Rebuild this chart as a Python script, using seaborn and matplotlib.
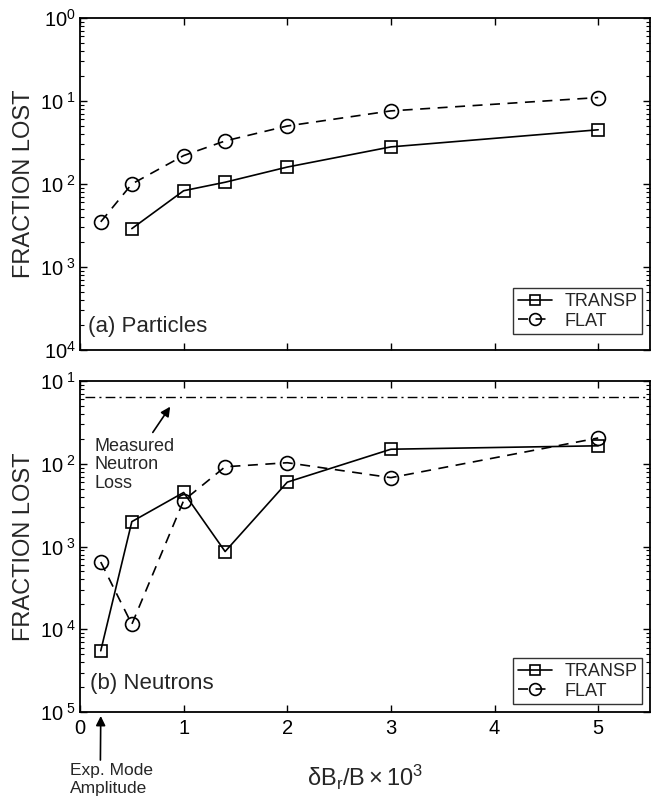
import numpy as np
import pandas as pd
import matplotlib
matplotlib.use("Agg")
import matplotlib.pyplot as plt
import seaborn as sns

# ---------------- data ----------------
x_flat_top = [0.2, 0.5, 1.0, 1.4, 2.0, 3.0, 5.0]
flat_top = [3.5e-3, 1.0e-2, 2.2e-2, 3.3e-2, 5.0e-2, 7.6e-2, 1.1e-1]
x_transp_top = [0.5, 1.0, 1.4, 2.0, 3.0, 5.0]
transp_top = [2.9e-3, 8.3e-3, 1.05e-2, 1.6e-2, 2.8e-2, 4.5e-2]

x_bot = [0.2, 0.5, 1.0, 1.4, 2.0, 3.0, 5.0]
transp_bot = [5.5e-5, 2.0e-3, 4.5e-3, 8.7e-4, 6.0e-3, 1.5e-2, 1.65e-2]
flat_bot = [6.5e-4, 1.15e-4, 3.6e-3, 9.2e-3, 1.03e-2, 6.8e-3, 2.05e-2]
measured_loss = 0.064
exp_mode_amp = 0.2

top_yticks = [1e0, 1e-1, 1e-2, 1e-3, 1e-4]
top_ylabels = [r"$10^{0}$", r"$10^{\ 1}$", r"$10^{\ 2}$", r"$10^{\ 3}$", r"$10^{4}$"]
bot_yticks = [1e-1, 1e-2, 1e-3, 1e-4, 1e-5]
bot_ylabels = [r"$10^{\ 1}$", r"$10^{\ 2}$", r"$10^{\ 3}$", r"$10^{\ 4}$", r"$10^{\ 5}$"]
xticks = [0, 1, 2, 3, 4, 5]
xticklabels = ["0", "1", "2", "3", "4", "5"]

# ---------------- style ----------------
sns.set_theme(style="ticks")
plt.rcParams["font.family"] = ["Liberation Sans", "DejaVu Sans"]
plt.rcParams["mathtext.fontset"] = "custom"
plt.rcParams["mathtext.rm"] = "Liberation Sans"
plt.rcParams["mathtext.it"] = "Liberation Sans:italic"
plt.rcParams["mathtext.default"] = "regular"
plt.rcParams["axes.linewidth"] = 1.3
plt.rcParams["axes.edgecolor"] = "black"

fig = plt.figure(figsize=(6.63, 7.96), dpi=100)
ax1 = fig.add_axes([0.1207, 0.5603, 0.8597, 0.4171])
ax2 = fig.add_axes([0.1207, 0.1055, 0.8597, 0.4158])

line_kw = dict(color="black", linewidth=1.2, markerfacecolor="none",
               markeredgecolor="black", markeredgewidth=1.2)


def draw(ax, xs_t, ys_t, xs_f, ys_f):
    sns.lineplot(x=xs_t, y=ys_t, ax=ax, marker="s", markersize=8.5,
                 linestyle="-", label="TRANSP", errorbar=None, sort=False, **line_kw)
    sns.lineplot(x=xs_f, y=ys_f, ax=ax, marker="o", markersize=10,
                 linestyle=(0, (6, 4.5)), label="FLAT", errorbar=None, sort=False, **line_kw)


draw(ax1, x_transp_top, transp_top, x_flat_top, flat_top)
draw(ax2, x_bot, transp_bot, x_bot, flat_bot)

for ax in (ax1, ax2):
    ax.set_yscale("log")
    ax.set_xlim(0, 5.5)
    ax.set_xticks(xticks)
    ax.tick_params(axis="both", which="both", direction="in", top=True, right=True,
                   colors="black", labelsize=14.5)
    ax.tick_params(axis="y", which="major", pad=3)
    ax.tick_params(axis="x", which="major", pad=5)
    ax.tick_params(which="major", length=5, width=1)
    ax.tick_params(which="minor", length=3, width=0.8)
    ax.set_xlabel("")
    ax.set_ylabel("FRACTION LOST", fontsize=17)
    ax.yaxis.set_label_coords(-0.079, 0.5)
    ax.grid(False)
    for s in ax.spines.values():
        s.set_visible(True)
    leg = ax.legend(loc="lower right", frameon=True, fancybox=False, edgecolor="black",
                    fontsize=13, handlelength=1.9, handletextpad=0.7, borderpad=0.25,
                    labelspacing=0.15, borderaxespad=0, markerscale=0.85)
    leg.get_frame().set_linewidth(1.0)

ax1.set_ylim(1e-4, 1e0)
ax1.set_yticks(top_yticks)
ax1.set_yticklabels(top_ylabels)
ax1.set_xticklabels([])
ax1.legend_.set_bbox_to_anchor((0.986, 0.048), transform=ax1.transAxes)
ax1.text(0.014, 0.072, "(a) Particles", transform=ax1.transAxes, fontsize=16,
         ha="left", va="center")

ax2.set_ylim(1e-5, 1e-1)
ax2.set_yticks(bot_yticks)
ax2.set_yticklabels(bot_ylabels)
ax2.set_xticklabels(xticklabels)
ax2.legend_.set_bbox_to_anchor((0.986, 0.024), transform=ax2.transAxes)
ax2.text(0.018, 0.085, "(b) Neutrons", transform=ax2.transAxes, fontsize=16,
         ha="left", va="center")
ax2.set_xlabel(r"$\delta B_r/B \times 10^3$", fontsize=17, labelpad=18)

ax2.plot([0.05, 5.5], [measured_loss, measured_loss], color="black", linewidth=1.0,
         linestyle=(0, (7, 3, 1.5, 3)))

ax2.annotate("Measured\nNeutron\nLoss", xy=(0.87, 0.049), xytext=(0.14, 0.0205),
             fontsize=13, ha="left", va="top", linespacing=1.1,
             arrowprops=dict(arrowstyle="-|>", color="black", lw=1.2,
                             mutation_scale=14, shrinkA=2, shrinkB=0,
                             relpos=(0.68, 1.0)))

ax2.annotate("Exp. Mode\nAmplitude", xy=(exp_mode_amp, -0.012), xycoords=("data", "axes fraction"),
             xytext=(-0.1, -0.155), textcoords=("data", "axes fraction"),
             fontsize=12.5, ha="left", va="top", linespacing=1.2, annotation_clip=False,
             arrowprops=dict(arrowstyle="-|>", color="black", lw=1.2,
                             mutation_scale=14, shrinkA=0, shrinkB=0,
                             relpos=(0.37, 1.0)))

fig.savefig("out.png", dpi=100)
